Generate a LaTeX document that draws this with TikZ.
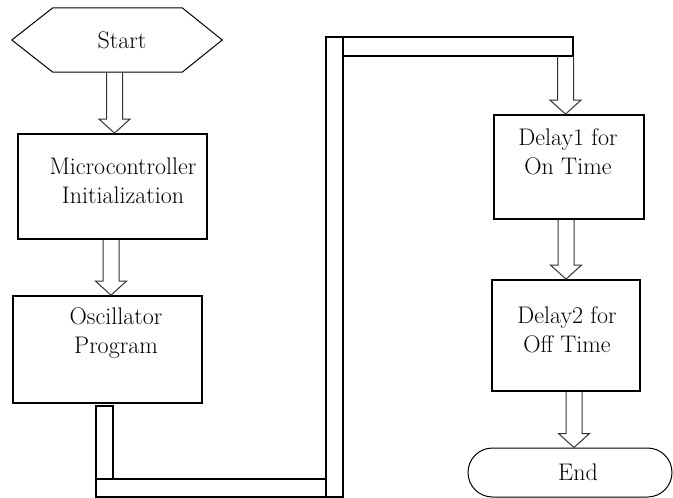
\documentclass[tikz,border=0pt]{standalone}
\usepackage{times}
\usetikzlibrary{calc,shapes.misc}

% hollow block arrow from a point down to a node border
\newcommand{\blockarrow}[2]{%
  \draw[blk] let \p1=(#1), \p2=(#2) in
    (\x1-8pt,\y1) -- (\x1-8pt,\y2+14pt) -- (\x1-15.5pt,\y2+14pt) -- (\x1,\y2)
    -- (\x1+15.5pt,\y2+14pt) -- (\x1+8pt,\y2+14pt) -- (\x1+8pt,\y1);}

\begin{document}
\begin{tikzpicture}[x=1pt,y=-1pt,
    txt/.style={font=\fontsize{24}{29}\selectfont,align=center,inner sep=0pt},
    box/.style={draw,line width=1.8pt,inner sep=0pt},
    blk/.style={draw=black!80,line width=1pt,line join=miter},
    pipe/.style={draw,line width=1.5pt}]
  \useasboundingbox (0,0) rectangle (673,498);
  %% nodes
  \node (start) at (117,40) [txt,minimum width=210pt,minimum height=64pt] {\hspace*{10pt}Start};
  \draw[line width=1pt] (start.west) -- ([xshift=41pt]start.north west)
    -- ([xshift=-40pt]start.north east) -- (start.east)
    -- ([xshift=-40pt]start.south east) -- ([xshift=41pt]start.south west) -- cycle;
  \node (micro) at (112.5,186.5) [box,minimum width=189pt,minimum height=105pt] {};
  \node (microtxt) at (123,181) [txt] {Microcontroller\\Initialization};
  \node (osc) at (107.5,349.5) [box,minimum width=189pt,minimum height=107pt] {};
  \node (osctxt) at (116,333) [txt] {Oscillator\\Program};
  \node (delay1) at (569,167) [box,minimum width=150pt,minimum height=104pt] {};
  \node (delay1txt) at (568,151.5) [txt] {Delay1 for\\On Time};
  \node (delay2) at (566,335.5) [box,minimum width=148pt,minimum height=111pt] {};
  \node (delay2txt) at (567,330) [txt] {Delay2 for\\Off Time};
  \node (stop) at (570,472.5) [txt,draw,line width=1pt,rounded rectangle,
    minimum width=204pt,minimum height=49pt] {\hspace*{16pt}End};
  %% arrows
  \blockarrow{[xshift=-2.5pt]start.south}{micro.north}
  \blockarrow{[xshift=-1.5pt]micro.south}{osc.north}
  \blockarrow{[xshift=-3pt]delay1.south}{delay2.north}
  \blockarrow{[xshift=8pt]delay2.south}{stop.north}
  %% pipe from the oscillator over to delay1
  \draw[pipe] (96,406) rectangle (113,479);
  \draw[pipe] (96,479) rectangle (326,497);
  \draw[pipe] (326,37) rectangle (343,497);
  \draw[pipe] (343,37) rectangle (573,56);
  \coordinate (bar) at (565.5,56);
  \blockarrow{bar}{delay1.north}
  %
\end{tikzpicture}
\end{document}
